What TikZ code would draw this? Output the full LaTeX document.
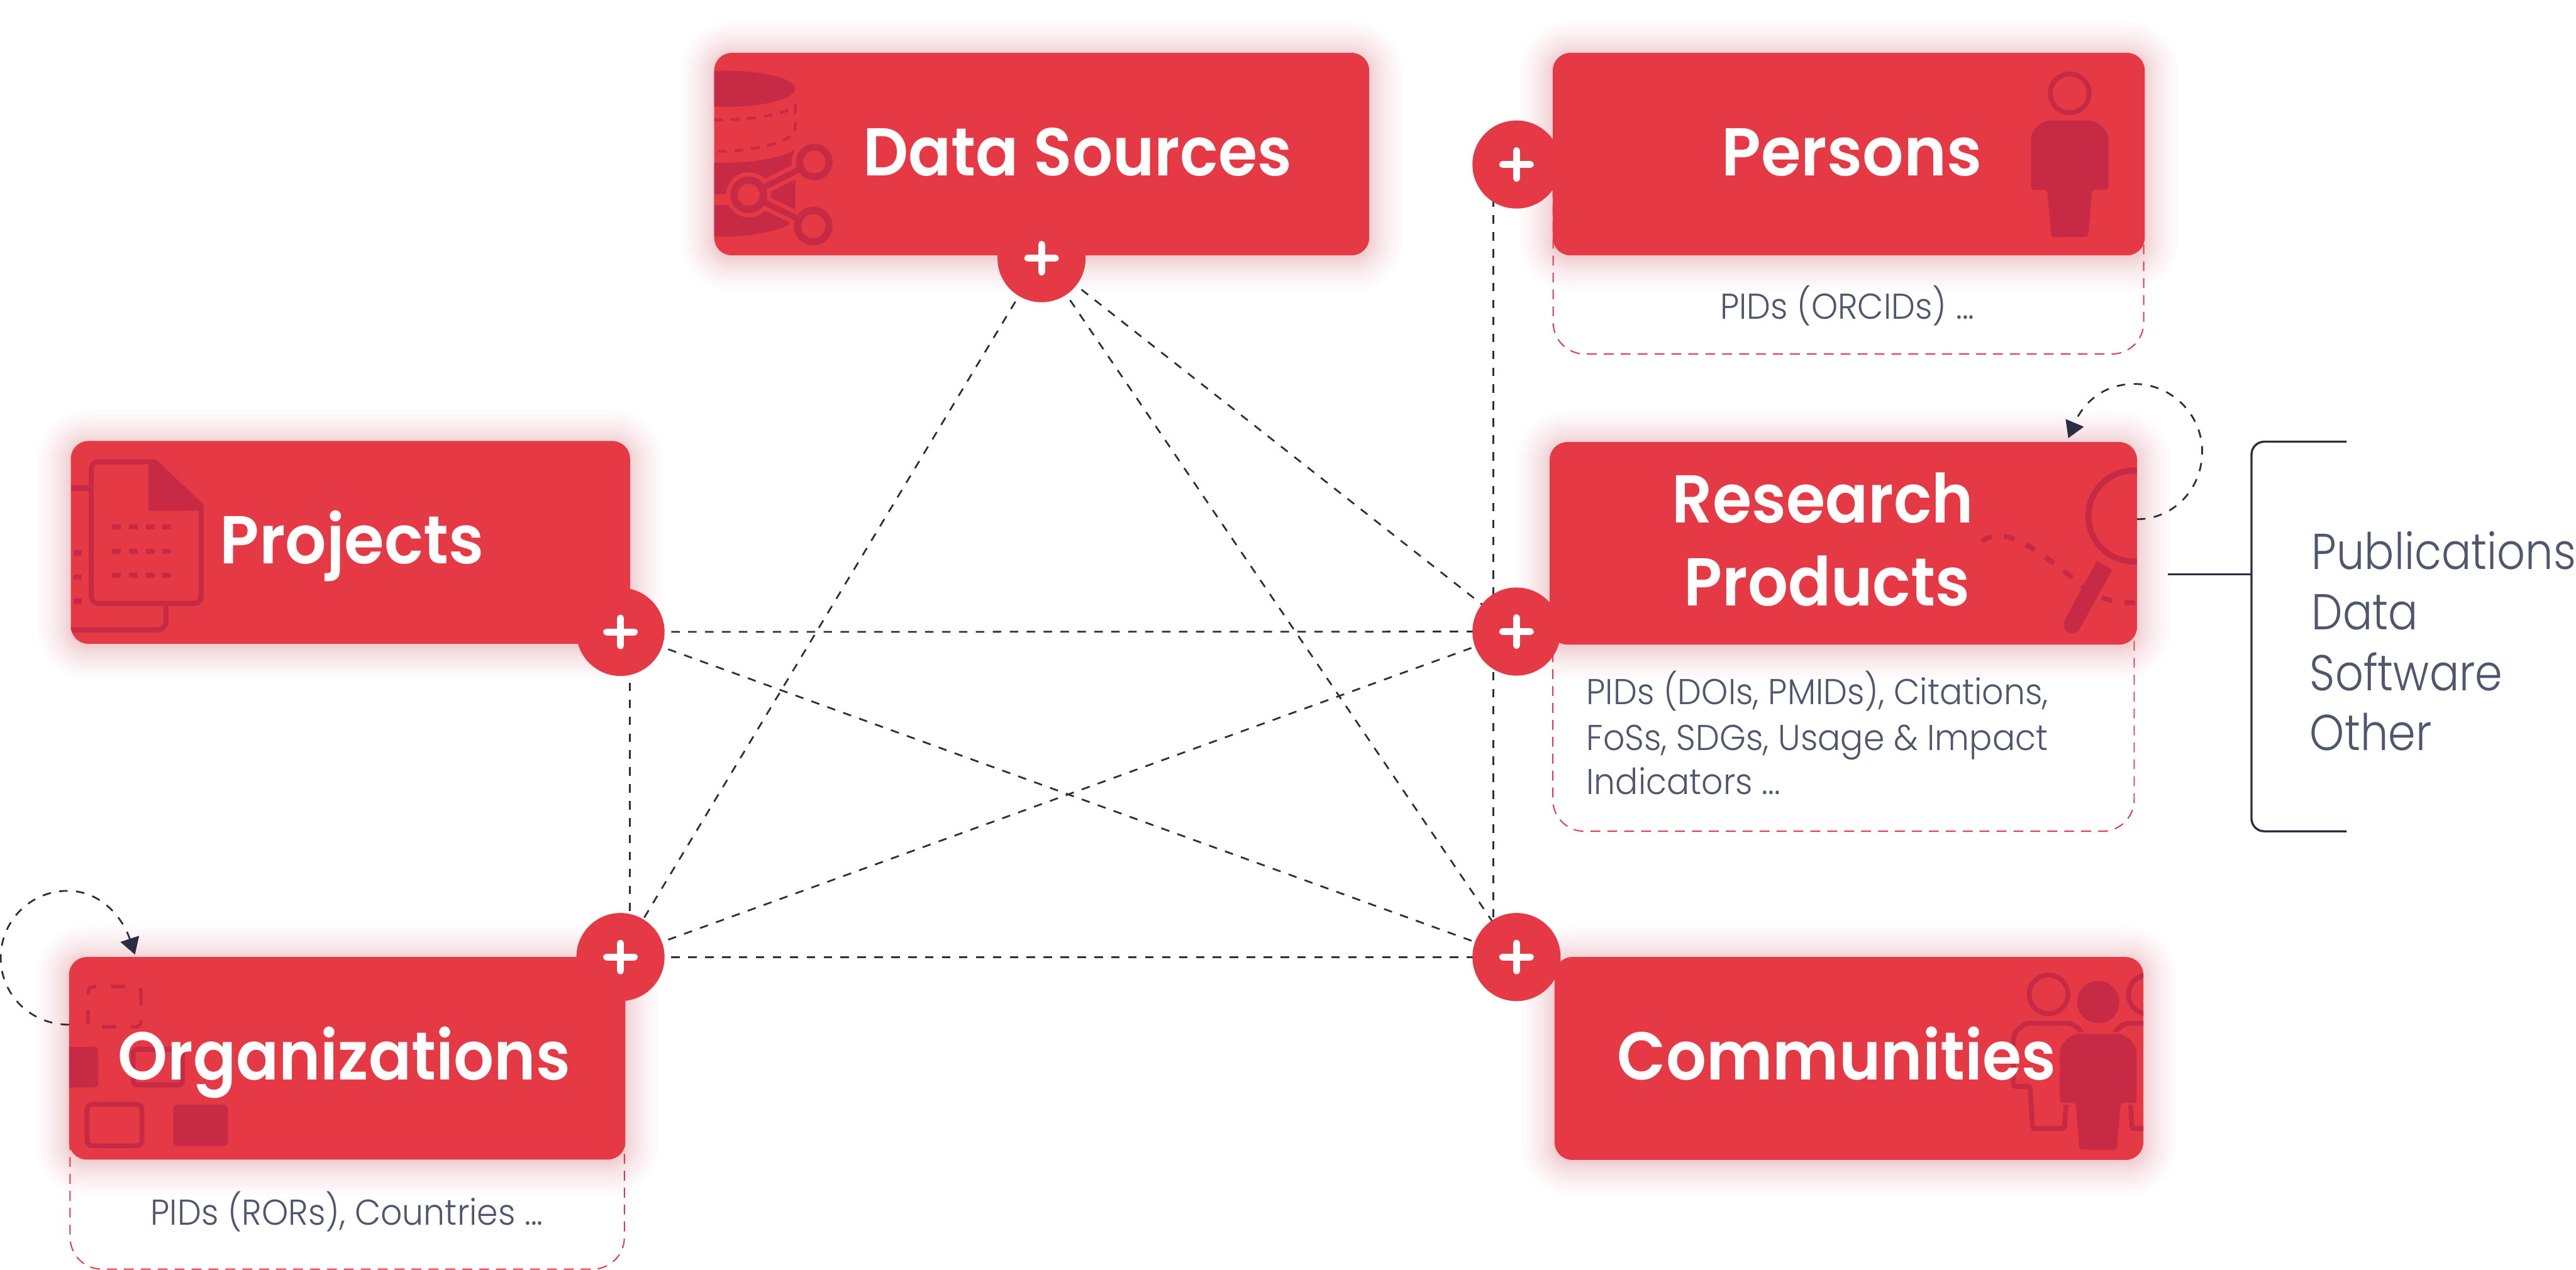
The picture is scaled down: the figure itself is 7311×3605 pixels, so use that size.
\documentclass[tikz,border=0pt]{standalone}
\usepackage{fontspec}
\usetikzlibrary{arrows.meta}
\setmainfont{Poppins}
\newfontfamily\titlefont{Poppins SemiBold}[FakeStretch=0.935]
\newfontfamily\titlefontB{Poppins SemiBold}[FakeStretch=0.957]
\newfontfamily\lightfont{Poppins Light}[FakeStretch=0.94]
\newfontfamily\listfont{Poppins Light}[FakeStretch=0.875]
\definecolor{cardred}{HTML}{E63946}
\definecolor{icondark}{HTML}{C72A45}
\definecolor{linedark}{HTML}{2B2D42}
\definecolor{slate}{HTML}{50566E}
\tikzset{
  x=0.01cm,y=-0.01cm,
  card/.style={rectangle,fill=cardred,rounded corners=0.5cm,inner sep=0pt,outer sep=0pt},
  infobox/.style={rectangle,draw=cardred,line width=1pt,dash pattern=on 0.28cm off 0.2cm,rounded corners=0.9cm,inner sep=0pt,outer sep=0pt},
  pluscircle/.style={circle,fill=cardred,minimum size=2.5cm,inner sep=0pt,outer sep=0pt},
  crossline/.style={white,line width=0.2cm,line cap=round},
  link/.style={linedark,line width=1.4pt,dash pattern=on 0.24cm off 0.24cm},
  selfloop/.style={link,-{Triangle[length=0.47cm,width=0.55cm]}},
  bracketline/.style={linedark,line width=1.7pt},
  icon/.style={fill=icondark},
  titletext/.style={white,inner sep=0pt,anchor=base west,font=\titlefont\fontsize{54.6}{60}\selectfont},
  titletextB/.style={white,inner sep=0pt,anchor=base west,font=\titlefontB\fontsize{54.6}{60}\selectfont},
  smalltext/.style={slate,inner sep=0pt,anchor=base west,font=\lightfont\fontsize{29}{34}\selectfont},
  listtext/.style={slate,inner sep=0pt,anchor=base west,font=\listfont\fontsize{40.7}{48}\selectfont},
}
\newcommand\rectnode[6]{%
  \pgfmathsetmacro\rw{(#5-#3)*0.01}\pgfmathsetmacro\rh{(#6-#4)*0.01}%
  \pgfmathsetmacro\rcx{(#3+#5)/2}\pgfmathsetmacro\rcy{(#4+#6)/2}%
  \node[#1,minimum width=\rw cm,minimum height=\rh cm] (#2) at (\rcx,\rcy) {};}
\newcommand\glowbox[4]{%
  \foreach \d in {3,7,11,15,20,25,30,36,42,49,56,64,72,82,94}{%
    \pgfmathsetmacro\gr{(50+\d)*0.01}%
    \fill[cardred,opacity=0.014,rounded corners=\gr cm] ({#1-\d},{#2-\d+6}) rectangle ({#3+\d},{#4+\d+6});}}
\newcommand\plusnode[3]{%
  \node[pluscircle] (#1) at (#2,#3) {};
  \draw[crossline] ([xshift=-0.39cm]#1.center) -- ([xshift=0.39cm]#1.center);
  \draw[crossline] ([yshift=-0.39cm]#1.center) -- ([yshift=0.39cm]#1.center);}
% hw, torso bottom, leg top half, leg bottom half, height, shoulder radius
\newcommand\personpath[6]{(-#1,#2) -- (-#1,#6) .. controls (-#1,{#6*.45}) and ({-#1+#6*.55},0) .. ({-#1+#6},0) -- ({#1-#6},0) .. controls ({#1-#6*.55},0) and (#1,{#6*.45}) .. (#1,#6) -- (#1,#2) -- (#3,#2) -- (#4,#5) -- (-#4,#5) -- (-#3,#2) -- cycle}
\begin{document}
\begin{tikzpicture}
\useasboundingbox (0,0) rectangle (7311,3605);
\fill[white] (0,0) rectangle (7311,3605);
% glows
\glowbox{2027}{150}{3886}{725}
\glowbox{201}{1252}{1788}{1828}
\glowbox{196}{2717}{1775}{3292}
\glowbox{4407}{150}{6087}{725}
\glowbox{4398}{1255}{6065}{1830}
\glowbox{4412}{2717}{6083}{3293}
% positions of the plus buttons
\coordinate (pds) at (2956,733);
\coordinate (ppr) at (1761,1794);
\coordinate (por) at (1761,2717);
\coordinate (ppe) at (4304,467);
\coordinate (prp) at (4304,1793);
\coordinate (pco) at (4304,2717);
% connectors
\draw[link] (pds) -- (por);
\draw[link] (pds) -- (prp);
\draw[link] (pds) -- (pco);
\draw[link] (ppr) -- (prp);
\draw[link] (ppr) -- (pco);
\draw[link] (por) -- (prp);
\draw[link] (por) -- (pco);
\draw[link] ([xshift=0.26cm]ppr) -- ([xshift=0.26cm]por);
\draw[link] ([xshift=-0.66cm]ppe) -- ([xshift=-0.66cm]pco);
% self loops
\coordinate (lorgS) at (196,2909);
\coordinate (lorgE) at (383,2710);
\draw[selfloop] (lorgS) .. controls (87,2909) and (2,2824) .. (2,2719) .. controls (2,2614) and (87,2529) .. (192,2529) .. controls (290,2529) and (350,2610) .. (lorgE);
\coordinate (lrpS) at (6065,1474);
\coordinate (lrpE) at (5870,1244);
\draw[selfloop] (lrpS) .. controls (6170,1474) and (6250,1387) .. (6250,1282) .. controls (6250,1177) and (6163,1090) .. (6058,1090) .. controls (5965,1090) and (5910,1149) .. (lrpE);
% info boxes
\rectnode{infobox}{ibpe}{4408}{400}{6084}{1005}
\rectnode{infobox}{ibrp}{4407}{1500}{6057}{2360}
\rectnode{infobox}{ibor}{199}{3000}{1772}{3603}
% cards
\rectnode{card}{cds}{2027}{150}{3886}{725}
\rectnode{card}{cpr}{201}{1252}{1788}{1828}
\rectnode{card}{cor}{196}{2717}{1775}{3292}
\rectnode{card}{cpe}{4407}{150}{6087}{725}
\rectnode{card}{crp}{4398}{1255}{6065}{1830}
\rectnode{card}{cco}{4412}{2717}{6083}{3293}
% Data Sources icon
\begin{scope}
\clip[rounded corners=0.5cm] (2027,150) rectangle (3886,725);
\fill[icon] (2062,252) ellipse [x radius=195,y radius=51];
\draw[icondark,line width=0.08cm,dash pattern=on 0.25cm off 0.22cm] (2027,340) .. controls (2130,342) and (2230,325) .. (2257,300) -- (2257,375) .. controls (2235,405) and (2130,432) .. (2027,430);
\fill[icon] (2027,461) .. controls (2120,466) and (2215,450) .. (2257,425) -- (2257,625) .. controls (2225,655) and (2130,675) .. (2027,671) -- cycle;
\fill[cardred] (2027,551) rectangle (2085,582);
\draw[cardred,line width=0.4cm] (2125,553) -- (2311,460);
\draw[cardred,line width=0.4cm] (2125,553) -- (2308,642);
\fill[cardred] (2125,553) circle [radius=64];
\fill[cardred] (2311,460) circle [radius=64];
\fill[cardred] (2308,642) circle [radius=67];
\draw[icondark,line width=0.16cm] (2125,553) -- (2311,460);
\draw[icondark,line width=0.16cm] (2125,553) -- (2308,642);
\fill[icon] (2125,553) circle [radius=52];
\fill[icon] (2311,460) circle [radius=52];
\fill[icon] (2308,642) circle [radius=55];
\fill[cardred] (2125,553) circle [radius=31];
\fill[cardred] (2311,460) circle [radius=32];
\fill[cardred] (2308,642) circle [radius=34];
\end{scope}
% Projects icon
\begin{scope}
\clip[rounded corners=0.5cm] (201,1252) rectangle (1788,1828);
\draw[icondark,line width=0.145cm,rounded corners=0.25cm] (201,1386) -- (259,1386);
\draw[icondark,line width=0.145cm,rounded corners=0.25cm] (201,1788) -- (471,1788) -- (471,1713);
\draw[icondark,line width=0.145cm,rounded corners=0.2cm] (430,1311) -- (259,1311) -- (259,1713) -- (571,1713) -- (571,1440);
\fill[icon] (421,1304) -- (442,1304) -- (578,1432) -- (578,1450) -- (421,1450) -- cycle;
\foreach \r in {1496,1565,1633}{\foreach \c in {330,378,426,473}{\fill[icon] (\c-12.5,\r-7.5) rectangle (\c+12.5,\r+7.5);}}
\foreach \r in {1570,1638,1707}{\fill[icon] (208,\r-7.5) rectangle (232,\r+7.5);}
\end{scope}
% Organizations icon
\begin{scope}
\clip[rounded corners=0.5cm] (196,2717) rectangle (1775,3292);
\draw[icondark,line width=0.1cm,rounded corners=0.15cm,dash pattern=on 0.4cm off 0.42cm] (400,2860) -- (400,2801) -- (250,2801) -- (250,2915) -- (400,2915) -- cycle;
\fill[icon,rounded corners=0.12cm] (150,2972) rectangle (279,3087);
\draw[icondark,line width=0.14cm,rounded corners=0.12cm] (378,2979) rectangle (518,3080);
\draw[icondark,line width=0.14cm,rounded corners=0.15cm] (247,3135) rectangle (403,3253);
\fill[icon,rounded corners=0.12cm] (492,3136) rectangle (647,3253);
\end{scope}
% Persons icon
\begin{scope}
\draw[icondark,line width=0.14cm] (5874,265) circle [radius=55];
\begin{scope}[shift={(5874,342)}]
\fill[icon,rounded corners=0.08cm] \personpath{110}{197}{64}{52}{331}{60};
\end{scope}
\end{scope}
% Research Products icon
\begin{scope}
\clip[rounded corners=0.5cm] (4398,1255) rectangle (6065,1830);
\draw[icondark,line width=0.17cm] (6056,1465) circle [radius=129];
\draw[icondark,line width=0.14cm,dash pattern=on 0.3cm off 0.36cm] (5625,1536) .. controls (5690,1490) and (5780,1560) .. (5875,1635) .. controls (5930,1690) and (5990,1715) .. (6065,1711);
\fill[icon] (5951,1592) -- (5995,1618) -- (5904,1782) -- (5857,1765) -- cycle;
\fill[icon] (5881,1774) circle [radius=24];
\end{scope}
% Communities icon
\begin{scope}
\clip[rounded corners=0.5cm] (4412,2717) rectangle (6083,3293);
\foreach \c in {5814,6096}{
  \draw[icondark,line width=0.14cm] (\c,2823) circle [radius=55];
  \begin{scope}[shift={(\c,2905)}]
  \draw[icondark,line width=0.14cm,rounded corners=0.06cm] \personpath{100}{179}{53}{45}{299}{52};
  \end{scope}
}
\fill[icon] (5955,2845) circle [radius=60];
\begin{scope}[shift={(5955,2935)}]
\draw[cardred,line width=0.1cm,fill=icondark,rounded corners=0.08cm] \personpath{109}{196}{64}{53}{329}{60};
\fill[icon,rounded corners=0.08cm] \personpath{109}{196}{64}{53}{329}{60};
\end{scope}
\end{scope}
% plus buttons
\plusnode{plds}{2956}{733}
\plusnode{plpr}{1761}{1794}
\plusnode{plor}{1761}{2717}
\plusnode{plpe}{4304}{467}
\plusnode{plrp}{4304}{1793}
\plusnode{plco}{4304}{2717}
% titles
\node[titletext] (tds) at (2449,499) {Data Sources};
\node[titletextB] (tpr) at (623,1600) {Projects};
\node[titletext] (tor) at (334,3065) {Organizations};
\node[titletextB] (tpe) at (4886,499) {Persons};
\node[titletext] (trp1) at (4745,1485) {Research};
\node[titletext] (trp2) at (4778,1720) {Products};
\node[titletext] (tco) at (4590,3065) {Communities};
% small text
\node[smalltext] (sor) at (427,3478) {PIDs (RORs), Countries ...};
\node[smalltext] (spe) at (4881,905) {PIDs (ORCIDs) ...};
\node[smalltext] (srp1) at (4502,2000) {PIDs (DOIs, PMIDs), Citations,};
\node[smalltext] (srp2) at (4502,2130) {FoSs, SDGs, Usage \& Impact};
\node[smalltext] (srp3) at (4502,2255) {Indicators ...};
% bracket
\coordinate (brT) at (6660,1254);
\coordinate (brB) at (6660,2360);
\coordinate (brS) at (6153,1631);
\coordinate (brJ) at (6390,1631);
\draw[bracketline,rounded corners=0.36cm] (brT) -- (6390,1254) -- (6390,2360) -- (brB);
\draw[bracketline] (brS) -- (brJ);
\node[listtext] (l1) at (6560,1616) {Publications};
\node[listtext] (l2) at (6560,1788) {Data};
\node[listtext] (l3) at (6555,1960) {Software};
\node[listtext] (l4) at (6555,2130) {Other};
\end{tikzpicture}
\end{document}
